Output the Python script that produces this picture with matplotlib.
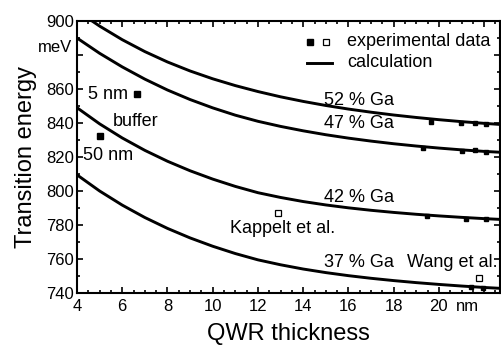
import matplotlib
matplotlib.use("Agg")
import matplotlib.pyplot as plt
from matplotlib.ticker import MultipleLocator

plt.rcParams['font.family'] = ['Liberation Sans', 'DejaVu Sans']

# ---------------- data ----------------
thickness = [4, 5, 6, 7, 8, 9, 10, 11, 12, 13, 14, 15, 16, 17, 18, 19, 20, 21, 22, 22.7]
calc_52 = [906, 897, 889, 882, 875.9, 870.6, 866.0, 862.0, 858.5, 855.4, 852.7, 850.3,
           848.2, 846.35, 844.7, 843.25, 841.95, 840.8, 839.8, 839.15]
calc_47 = [890, 881, 873, 865.8, 859.4, 853.8, 848.9, 844.6, 841.0, 838.0, 835.4, 833.1,
           831.1, 829.35, 827.8, 826.45, 825.25, 824.2, 823.3, 822.8]
calc_42 = [849, 839.5, 831.2, 823.9, 817.5, 811.9, 807.0, 802.7, 799.0, 796.2, 793.8,
           791.8, 790.1, 788.65, 787.4, 786.3, 785.35, 784.5, 783.75, 783.3]
calc_37 = [809.5, 800, 791.7, 784.4, 778.0, 772.4, 767.5, 763.2, 759.5, 756.6, 754.1,
           752.0, 750.2, 748.65, 747.3, 746.1, 745.05, 744.1, 743.25, 742.75]

exp52_t = [19.67, 20.99, 21.58, 22.1]
exp52_e = [840.8, 839.8, 840.2, 839.6]
exp47_t = [19.29, 21.0, 21.58, 22.1]
exp47_e = [825.1, 823.7, 824.0, 823.1]
exp42_t = [19.46, 21.2, 22.1]
exp42_e = [785.3, 783.5, 783.5]
exp37_t = [21.4, 21.97]
exp37_e = [743.7, 743.1]
exp_single_t = [6.64, 5.0]          # 5 nm buffer, 50 nm buffer
exp_single_e = [857.0, 832.5]
lit_t = [12.87, 21.75]              # Kappelt et al., Wang et al.
lit_e = [787.0, 749.0]

curve_labels = ["52 % Ga", "47 % Ga", "42 % Ga", "37 % Ga"]
curve_label_e = [853.5, 839.6, 796.2, 757.9]

x_ticks = [4, 6, 8, 10, 12, 14, 16, 18, 20, 22]
x_ticklabels = ["4", "6", "8", "10", "12", "14", "16", "18", "20", ""]
y_ticks = [740, 760, 780, 800, 820, 840, 860, 880, 900]
y_ticklabels = ["740", "760", "780", "800", "820", "840", "860", "", "900"]

# ---------------- figure ----------------
fig = plt.figure(figsize=(5.02, 3.47), dpi=100)
ax = fig.add_axes([77 / 502, 1 - 293 / 347, 423 / 502, 272 / 347])

lw = 2.1
for ys in (calc_52, calc_47, calc_42, calc_37):
    ax.plot(thickness, ys, color='black', lw=lw, solid_capstyle='butt',
            solid_joinstyle='round')

for tt, ee in ((exp52_t, exp52_e), (exp47_t, exp47_e), (exp42_t, exp42_e),
               (exp37_t, exp37_e)):
    ax.plot(tt, ee, ls='none', marker='s', ms=3.4, color='black')
ax.plot(exp_single_t, exp_single_e, ls='none', marker='s', ms=4.6, color='black')
ax.plot(lit_t, lit_e, ls='none', marker='s', ms=4.0, mfc='white', mec='black', mew=0.9)

ax.set_xlim(4, 22.7)
ax.set_ylim(740, 900)

ax.set_xticks(x_ticks)
ax.set_xticklabels(x_ticklabels)
ax.set_yticks(y_ticks)
ax.set_yticklabels(y_ticklabels)
ax.xaxis.set_minor_locator(MultipleLocator(0.5))
ax.yaxis.set_minor_locator(MultipleLocator(10))
ax.tick_params(which='both', direction='in', top=True, right=True, width=1.2)
ax.tick_params(which='major', length=4.5, labelsize=12)
ax.tick_params(which='minor', length=2.5)
ax.tick_params(axis='x', which='major', pad=4)
ax.tick_params(axis='y', which='major', pad=2)
for s in ax.spines.values():
    s.set_linewidth(1.5)

ax.set_xlabel("QWR thickness", fontsize=17)
ax.set_ylabel("Transition energy", fontsize=17)
ax.xaxis.set_label_coords(0.5, -0.11)
ax.yaxis.set_label_coords(-0.095, 0.5)

fs = 13
for lab, e in zip(curve_labels, curve_label_e):
    ax.text(16.46, e, lab, ha='center', va='center', fontsize=fs)
ax.text(18.61, 758.2, "Wang et al.", ha='left', va='center', fontsize=fs)
ax.text(10.77, 778.2, "Kappelt et al.", ha='left', va='center', fontsize=fs)
ax.text(4.49, 857.0, "5 nm", ha='left', va='center', fontsize=fs)
ax.text(5.59, 840.6, "buffer", ha='left', va='center', fontsize=fs)
ax.text(4.27, 821.0, "50 nm", ha='left', va='center', fontsize=fs)

# unit labels
ax.annotate("meV", xy=(0, 884.4), xycoords=('axes fraction', 'data'),
            xytext=(-3.5, 0), textcoords='offset points', ha='right', va='center',
            fontsize=12)
ax.annotate("nm", xy=(20.75, 0), xycoords=('data', 'axes fraction'),
            xytext=(0, -4), textcoords='offset points', ha='left', va='top',
            fontsize=12)

# legend (manual)
tr = ax.transAxes
ax.plot([0.551], [0.923], transform=tr, marker='s', ms=4.2, color='black', ls='none')
ax.plot([0.589], [0.923], transform=tr, marker='s', ms=4.0, mfc='white', mec='black',
        mew=0.9, ls='none')
ax.plot([0.544, 0.603], [0.846, 0.846], transform=tr, color='black', lw=lw)
ax.text(0.638, 0.923, "experimental data", transform=tr, ha='left', va='center', fontsize=fs)
ax.text(0.638, 0.846, "calculation", transform=tr, ha='left', va='center', fontsize=fs)

fig.savefig("out.png", dpi=100)
